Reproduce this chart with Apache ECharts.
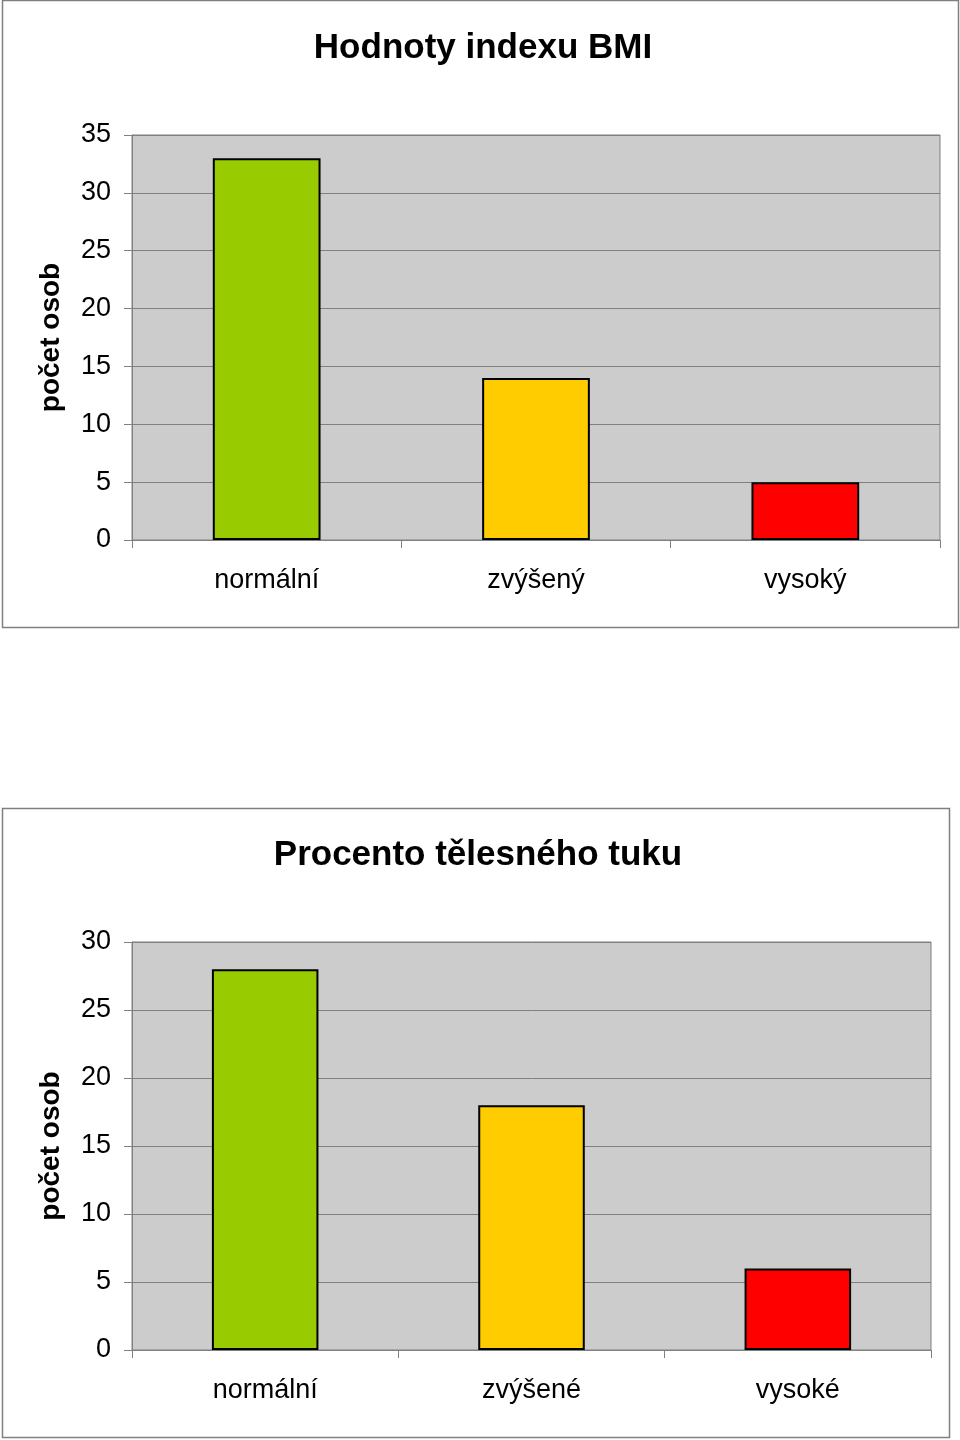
<!DOCTYPE html>
<html>
<head>
<meta charset="utf-8">
<script src="https://cdn.jsdelivr.net/npm/echarts@6/dist/echarts.min.js"></script>
<style>
html,body{margin:0;padding:0;background:#fff;}
#chart{width:960px;height:1440px;}
</style>
</head>
<body>
<div id="chart"></div>
<script>
const titleBMI = 'Hodnoty indexu BMI';
const categoriesBMI = ['normální', 'zvýšený', 'vysoký'];
const valuesBMI = [33, 14, 5];

const titleFat = 'Procento tělesného tuku';
const categoriesFat = ['normální', 'zvýšené', 'vysoké'];
const valuesFat = [28, 18, 6];

const yNameLabel = 'počet osob';
const barColors = ['#99CC00', '#FFCC00', '#FF0000'];

const FONT = '"Liberation Sans", Arial, sans-serif';
const GREY = '#808080';

function xAxisCfg(gridIndex, cats) {
  return {
    type: 'category', gridIndex: gridIndex, data: cats,
    axisLine: {show: true, lineStyle: {color: GREY, width: 1}},
    axisTick: {show: true, length: 8, alignWithLabel: false, lineStyle: {color: GREY}},
    axisLabel: {fontSize: 27, color: '#000', fontFamily: FONT, margin: 27}
  };
}
function yAxisCfg(gridIndex, max) {
  return {
    type: 'value', gridIndex: gridIndex, min: 0, max: max, interval: 5,
    name: yNameLabel, nameLocation: 'middle', nameRotate: 90, nameGap: 67,
    nameTextStyle: {fontSize: 28, fontWeight: 'bold', color: '#000', fontFamily: FONT},
    axisLine: {show: true, lineStyle: {color: GREY, width: 1}},
    axisTick: {show: true, length: 8, lineStyle: {color: GREY}},
    axisLabel: {fontSize: 27, color: '#000', fontFamily: FONT, margin: 21},
    splitLine: {show: true, lineStyle: {color: GREY, width: 1}}
  };
}
function barSeries(idx, vals) {
  return {
    type: 'bar', xAxisIndex: idx, yAxisIndex: idx, barWidth: '40%',
    data: vals.map((v, i) => ({value: v, itemStyle: {color: barColors[i]}})),
    itemStyle: {borderColor: '#000', borderWidth: 2},
    emphasis: {disabled: true}, animation: false
  };
}

const chart = echarts.init(document.getElementById('chart'), null, {renderer: 'canvas'});
chart.setOption({
  backgroundColor: '#ffffff',
  animation: false,
  graphic: [
    {type: 'rect', shape: {x: 2.5, y: 0.5, width: 956, height: 627}, style: {fill: 'none', stroke: GREY, lineWidth: 1.5}, silent: true, z: -1},
    {type: 'rect', shape: {x: 2.5, y: 808.5, width: 947, height: 629}, style: {fill: 'none', stroke: GREY, lineWidth: 1.5}, silent: true, z: -1}
  ],
  title: [
    {text: titleBMI, left: 478, top: 26, textAlign: 'center',
     textStyle: {fontSize: 35, fontWeight: 'bold', color: '#000', fontFamily: FONT}},
    {text: titleFat, left: 473, top: 833, textAlign: 'center',
     textStyle: {fontSize: 35, fontWeight: 'bold', color: '#000', fontFamily: FONT}}
  ],
  grid: [
    {left: 132, top: 135, width: 808, height: 405, show: true, backgroundColor: '#cccccc', borderColor: GREY, borderWidth: 1},
    {left: 132, top: 942, width: 799, height: 408, show: true, backgroundColor: '#cccccc', borderColor: GREY, borderWidth: 1}
  ],
  xAxis: [xAxisCfg(0, categoriesBMI), xAxisCfg(1, categoriesFat)],
  yAxis: [yAxisCfg(0, 35), yAxisCfg(1, 30)],
  series: [barSeries(0, valuesBMI), barSeries(1, valuesFat)]
});
</script>
</body>
</html>
